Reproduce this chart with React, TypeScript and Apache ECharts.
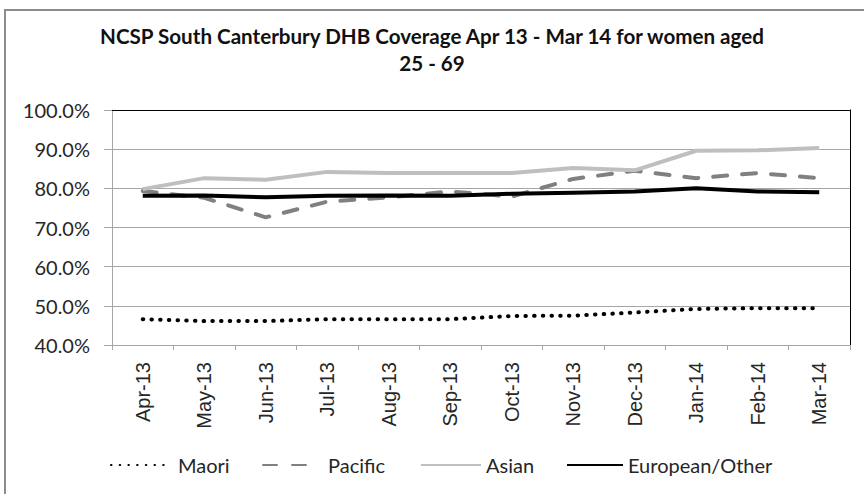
import React, { useEffect, useRef } from "react";
import * as echarts from "echarts";

const titleText = "NCSP South Canterbury DHB Coverage Apr 13 - Mar 14 for women aged\n25 - 69";
const categories = ["Apr-13", "May-13", "Jun-13", "Jul-13", "Aug-13", "Sep-13", "Oct-13", "Nov-13", "Dec-13", "Jan-14", "Feb-14", "Mar-14"];
const maori = [46.6, 46.1, 46.1, 46.6, 46.6, 46.6, 47.4, 47.5, 48.3, 49.2, 49.4, 49.4];
const pacific = [79.3, 77.6, 72.6, 76.6, 77.7, 79.2, 77.9, 82.4, 84.5, 82.6, 83.9, 82.6];
const asian = [79.8, 82.6, 82.2, 84.2, 83.9, 83.9, 83.9, 85.2, 84.6, 89.6, 89.7, 90.3];
const european = [78.1, 78.2, 77.7, 78.1, 78.2, 78.1, 78.6, 78.9, 79.2, 80.0, 79.2, 79.0];
const seriesNames = ["Maori", "Pacific", "Asian", "European/Other"];
const yMin = 40;
const yMax = 100;
const yStep = 10;

export default function App() {
  const ref = useRef<HTMLDivElement>(null);
  useEffect(() => {
    document.body.style.margin = "0";
    const chart = echarts.init(ref.current!, null, { renderer: "svg" });
    const labelFont = "Lato";
    const legendLayout = [
      { left: 110, itemWidth: 56, pad: 6 },
      { left: 262, itemWidth: 45, pad: 15 },
      { left: 420, itemWidth: 60, pad: 0 },
      { left: 566, itemWidth: 56, pad: 0 },
    ];
    const legends = seriesNames.map((name, i) => ({
      left: legendLayout[i].left,
      top: 453,
      padding: 0,
      itemWidth: legendLayout[i].itemWidth,
      itemHeight: 4,
      itemStyle: { opacity: 0 },
      textStyle: {
        fontFamily: labelFont,
        fontSize: 20,
        color: "#262626",
        lineHeight: 24,
        padding: [0, 0, 0, legendLayout[i].pad],
      },
      data: [name],
    }));
    chart.setOption({
      animation: false,
      backgroundColor: "#ffffff",
      title: {
        text: titleText,
        left: "center",
        top: 22,
        padding: [0, 0, 0, 12],
        textStyle: {
          fontFamily: "Lato",
          fontWeight: "bold",
          fontSize: 20.6,
          lineHeight: 27,
          color: "#111",
        },
      },
      graphic: [
        {
          type: "rect",
          shape: { x: 5, y: 10, width: 1000, height: 600 },
          style: { fill: "none", stroke: "#8c8c8c", lineWidth: 2 },
          silent: true,
          z: -1,
        },
      ],
      legend: legends,
      grid: { left: 112, right: 14, top: 110, bottom: 149, containLabel: false },
      xAxis: [
        {
          type: "category",
          data: categories,
          boundaryGap: true,
          axisLine: { lineStyle: { color: "#a6a6a6", width: 1 } },
          axisTick: { show: true, length: 5, lineStyle: { color: "#a6a6a6" } },
          axisLabel: {
            rotate: 90,
            margin: 17,
            fontFamily: "Liberation Sans",
            fontSize: 20,
            color: "#262626",
            interval: 0,
          },
        },
        {
          type: "category",
          position: "top",
          data: categories,
          axisLine: { lineStyle: { color: "#000", width: 1 } },
          axisTick: { show: false },
          axisLabel: { show: false },
        },
      ],
      yAxis: [
        {
          type: "value",
          min: yMin,
          max: yMax,
          interval: yStep,
          axisLine: { show: true, lineStyle: { color: "#a6a6a6", width: 1 } },
          axisTick: { show: true, length: 8, lineStyle: { color: "#a6a6a6" } },
          splitLine: { show: true, lineStyle: { color: "#a6a6a6", width: 1 } },
          axisLabel: {
            margin: 22,
            fontFamily: labelFont,
            fontSize: 20,
            color: "#262626",
            formatter: (v: number) => v.toFixed(1) + "%",
          },
        },
        {
          type: "value",
          position: "right",
          min: yMin,
          max: yMax,
          interval: yStep,
          axisLine: { show: true, lineStyle: { color: "#000", width: 1 } },
          axisTick: { show: false },
          splitLine: { show: false },
          axisLabel: { show: false },
        },
      ],
      series: [
        {
          name: seriesNames[0],
          type: "line",
          data: maori,
          symbol: "none",
          lineStyle: { color: "#000", width: 4, type: [0.5, 8.2], cap: "round" },
          itemStyle: { color: "#000" },
        },
        {
          name: seriesNames[1],
          type: "line",
          data: pacific,
          symbol: "none",
          lineStyle: { color: "#808080", width: 4, type: [14, 15], cap: "round" },
          itemStyle: { color: "#808080" },
        },
        {
          name: seriesNames[2],
          type: "line",
          data: asian,
          symbol: "none",
          lineStyle: { color: "#bfbfbf", width: 4 },
          itemStyle: { color: "#bfbfbf" },
        },
        {
          name: seriesNames[3],
          type: "line",
          data: european,
          symbol: "none",
          lineStyle: { color: "#000", width: 4 },
          itemStyle: { color: "#000" },
        },
      ],
    });
    return () => chart.dispose();
  }, []);
  return <div ref={ref} style={{ width: 864, height: 494 }} />;
}
